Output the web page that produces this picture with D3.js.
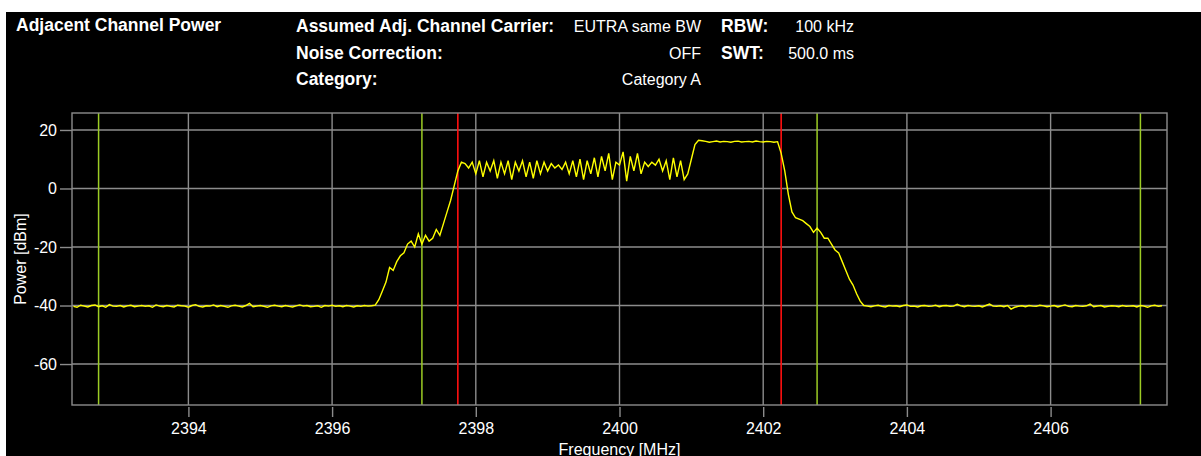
<!DOCTYPE html>
<html>
<head>
    <meta charset="utf-8">
    <title>Adjacent Channel Power</title>
    <style>
        body { margin: 0; background: #fff; font-family: "Liberation Sans", Arial, sans-serif; }
        .bg { fill: #000; }
        .hd { fill: #fff; font-size: 16px; }
        .hd_b { fill: #fff; font-size: 17.5px; font-weight: bold; }
        .grid line { stroke: #8c8c8c; stroke-width: 1.4px; }
        .frame { fill: none; stroke: #8c8c8c; stroke-width: 1.4px; }
        .ax text { fill: #fff; font-size: 16px; font-family: "Liberation Sans", Arial, sans-serif; }
        .ax line { stroke: #8c8c8c; stroke-width: 1.4px; }
        .ax path { display: none; }
        .lbl { fill: #fff; font-size: 16px; }
        .trace { fill: none; stroke: #ffff00; stroke-width: 1.4px; stroke-linejoin: miter; }
    </style>
    <script src="https://cdn.jsdelivr.net/npm/d3@7"></script>
</head>
<body>
<svg id="chart"></svg>

<script>
    //sweep: start frequency and step (MHz), one power value (dBm) per point
    var sweepStart = 2392.40,
        sweepStep = 0.05;

    var power = [
        //noise floor 2392.40 - 2396.60
        -40.3,-40.6,-39.9,-40.2,-40.5,-40.0,-39.8,-40.4,-40.1,-40.6,
        -39.7,-40.2,-40.3,-40.0,-40.5,-40.1,-39.9,-40.4,-40.2,-40.0,
        -40.3,-40.1,-40.6,-39.8,-40.2,-40.4,-40.0,-40.3,-40.5,-39.9,
        -40.1,-40.2,-40.6,-40.0,-39.7,-40.3,-40.5,-40.1,-40.2,-39.8,
        -40.4,-40.0,-40.3,-40.6,-40.1,-39.9,-40.2,-40.5,-40.0,-39.3,
        -40.4,-40.2,-40.0,-40.3,-40.6,-40.1,-39.9,-40.2,-40.4,-40.0,
        -40.3,-40.5,-40.1,-39.8,-40.2,-40.0,-40.4,-40.3,-40.1,-40.6,
        -40.0,-40.2,-39.9,-40.3,-40.1,-40.4,-40.0,-40.2,-40.5,-40.1,
        -40.3,-40.0,-40.2,-40.1,-39.9,
        //lower adjacent leakage 2396.65 - 2397.80
        -38,-35,-32,-27,-28,-25,-23,-22,-19,-18,-20,-15.5,-19,-16,-18,-17,-14,-16,-12,-8,-4,1,6,9,
        //carrier, 2397.85 - 2400.95
        8.5,7,9,5,9.5,4,9,6,9.5,3.5,9,5,9.5,3,9,6,9.5,4,9,3.5,
        9.5,5,9,6,8.5,7,8,6.5,9,5,9.5,4,10,3,9.5,5,10.5,4,11,6,
        12,3,9,8,12.5,2.5,11,6,12,5,9,7.5,9,8,10,6,9.5,3,10.5,4,9.5,3,5,
        //carrier, 2401.00 - 2402.20
        10,15,16.5,16.3,16.1,15.8,16.0,16.2,15.9,16.1,16.0,15.8,16.1,16.2,15.9,16.0,16.1,15.9,16.2,16.0,15.9,16.1,16.0,15.8,16.0,
        //upper adjacent leakage 2402.25 - 2403.35
        12,6,-2,-8,-10,-10.5,-11,-12,-13,-15,-13.5,-15,-17,-17,-19,-21,-22,-25,-28,-31,-33,-36,-38.5,
        //noise floor 2403.40 - 2407.60
        -40.0,-40.2,-40.4,-40.1,-39.9,-40.3,-40.5,-40.0,-40.2,-40.1,
        -40.4,-40.0,-39.8,-40.3,-40.2,-40.5,-40.1,-40.0,-40.3,-40.2,
        -39.9,-40.4,-40.1,-40.0,-40.3,-40.2,-39.6,-40.1,-40.4,-40.0,
        -40.2,-40.3,-40.1,-40.5,-40.0,-39.5,-40.2,-40.3,-40.1,-40.4,
        -40.0,-41.2,-40.6,-40.3,-40.1,-40.4,-40.0,-40.2,-40.3,-39.9,
        -40.1,-40.4,-40.2,-40.0,-40.5,-40.1,-39.8,-40.3,-40.4,-40.0,
        -40.2,-40.3,-40.1,-39.5,-40.4,-40.2,-40.0,-40.5,-40.3,-40.1,
        -40.2,-40.4,-40.0,-40.3,-40.2,-40.1,-40.5,-40.0,-40.2,-40.6,
        -40.1,-39.9,-40.3,-40.1
    ];

    //channel limits (MHz)
    var txLimits = [2397.75, 2402.25],
        adjLimits = [2392.75, 2397.25, 2402.75, 2407.25];

    var xTicks = [2394, 2396, 2398, 2400, 2402, 2404, 2406],
        yTicks = [20, 0, -20, -40, -60],
        xDomain = [2392.38, 2407.62],
        yDomain = [-74, 25.8];

    //header lines
    var hdLabels = ["Assumed Adj. Channel Carrier:", "Noise Correction:", "Category:"],
        hdValues = ["EUTRA same BW", "OFF", "Category A"],
        setLabels = ["RBW:", "SWT:"],
        setValues = ["100 kHz", "500.0 ms"];

    var width = 1201, height = 456,
        m = {left: 72, right: 1167, top: 113, bottom: 405};

    var svg = d3.select("#chart").attr("width", width).attr("height", height).style("display", "block");
    svg.append("rect").attr("class", "bg").attr("x", 6).attr("y", 12).attr("width", width - 6).attr("height", height - 12);

    //header
    svg.append("text").attr("class", "hd_b").attr("x", 16).attr("y", 30.5).text("Adjacent Channel Power");
    var rowY = [32, 58.5, 85];
    hdLabels.forEach(function(t, i){
        svg.append("text").attr("class", "hd_b").attr("x", 296).attr("y", rowY[i]).text(t);
        svg.append("text").attr("class", "hd").attr("x", 701).attr("y", rowY[i]).attr("text-anchor", "end").text(hdValues[i]);
    });
    setLabels.forEach(function(t, i){
        svg.append("text").attr("class", "hd_b").attr("x", 721).attr("y", rowY[i]).text(t);
        svg.append("text").attr("class", "hd").attr("x", 854).attr("y", rowY[i]).attr("text-anchor", "end").text(setValues[i]);
    });

    var x = d3.scaleLinear().domain(xDomain).range([m.left, m.right]),
        y = d3.scaleLinear().domain(yDomain).range([m.bottom, m.top]);

    //grid
    var grid = svg.append("g").attr("class", "grid");
    grid.selectAll(".gx").data(xTicks).enter().append("line").attr("class", "gx")
        .attr("x1", x).attr("x2", x).attr("y1", m.top).attr("y2", m.bottom);
    grid.selectAll(".gy").data(yTicks).enter().append("line").attr("class", "gy")
        .attr("y1", y).attr("y2", y).attr("x1", m.left).attr("x2", m.right);

    //axes (plain hyphen for negatives, like the instrument)
    var fmt = function(d){ return String(d); };
    svg.append("g").attr("class", "ax").attr("transform", "translate(0," + (m.bottom + 2) + ")")
        .call(d3.axisBottom(x).tickValues(xTicks).tickSize(10).tickPadding(6).tickFormat(fmt));
    svg.append("g").attr("class", "ax").attr("transform", "translate(" + m.left + ",0)")
        .call(d3.axisLeft(y).tickValues(yTicks).tickSize(12).tickPadding(3).tickFormat(fmt));

    //channel limit lines
    svg.append("g").selectAll("line").data(adjLimits).enter().append("line")
        .attr("x1", x).attr("x2", x).attr("y1", m.top).attr("y2", m.bottom)
        .attr("stroke", "#9ccc24").attr("stroke-width", 1.5);
    svg.append("g").selectAll("line").data(txLimits).enter().append("line")
        .attr("x1", x).attr("x2", x).attr("y1", m.top).attr("y2", m.bottom)
        .attr("stroke", "#ff1010").attr("stroke-width", 1.6);

    //trace
    var line = d3.line()
        .x(function(d, i){ return x(sweepStart + i * sweepStep); })
        .y(function(d){ return y(d); });
    svg.append("path").datum(power).attr("class", "trace").attr("d", line);

    svg.append("rect").attr("class", "frame").attr("x", m.left).attr("y", m.top)
        .attr("width", m.right - m.left).attr("height", m.bottom - m.top);

    //axis titles
    svg.append("text").attr("class", "lbl").attr("x", (m.left + m.right) / 2).attr("y", 455)
        .attr("text-anchor", "middle").text("Frequency [MHz]");
    svg.append("text").attr("class", "lbl").attr("transform", "translate(26," + ((m.top + m.bottom) / 2) + ") rotate(-90)")
        .attr("text-anchor", "middle").text("Power [dBm]");
</script>
</body>
</html>
